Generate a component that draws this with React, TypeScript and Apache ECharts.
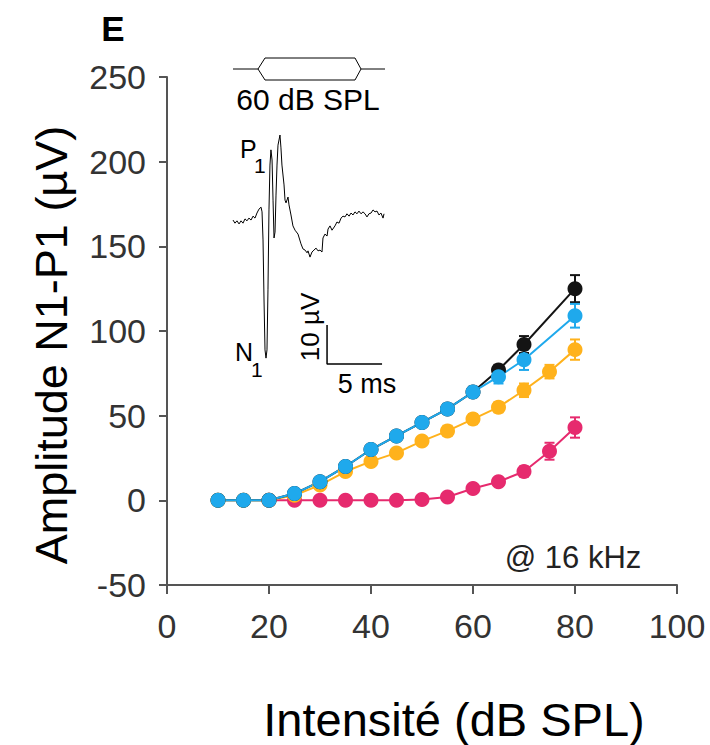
import React, { useEffect, useRef } from 'react';
import * as echarts from 'echarts';

// ---- Main input/output data (Intensité dB SPL vs Amplitude N1-P1 µV) ----
const blackX = [10, 15, 20, 25, 30, 35, 40, 45, 50, 55, 60, 65, 70, 80];
const blackY = [0, 0, 0, 4, 11, 20, 30, 38, 46, 54, 64, 77, 92, 125];
const blackErr = [1, 1, 1, 1, 1, 2, 2, 2, 2, 2, 3, 3, 5, 8];

const blueX = [10, 15, 20, 25, 30, 35, 40, 45, 50, 55, 60, 65, 70, 80];
const blueY = [0, 0, 0, 4, 11, 20, 30, 38, 46, 54, 64, 73, 83, 109];
const blueErr = [1, 1, 1, 1, 2, 2, 2, 2, 2, 3, 3, 4, 6, 7];

const orangeX = [10, 15, 20, 25, 30, 35, 40, 45, 50, 55, 60, 65, 70, 75, 80];
const orangeY = [0, 0, 0, 3, 9, 17, 23, 28, 35, 41, 48, 55, 65, 76, 89];
const orangeErr = [1, 1, 1, 1, 2, 2, 2, 2, 2, 3, 3, 3, 4, 4, 6];

const pinkX = [20, 25, 30, 35, 40, 45, 50, 55, 60, 65, 70, 75, 80];
const pinkY = [0, 0, 0, 0, 0, 0, 0.5, 2, 7, 11, 17, 29, 43];
const pinkErr = [1, 1, 1, 1, 1, 1, 1, 1, 2, 2, 3, 5, 6];

const xTicks = { min: 0, max: 100, interval: 20 };
const yTicks = { min: -50, max: 250, interval: 50 };

const xTitle = 'Intensité (dB SPL)';
const yTitle = 'Amplitude N1-P1 (µV)';

// ---- Inset: example waveform at 60 dB SPL (time ms, µV) ----
const traceTime = [
  0, 0.18, 0.36, 0.55, 0.73, 0.91, 1.09, 1.27, 1.45, 1.64, 1.82, 2.0, 2.18, 2.36, 2.55, 2.64,
  2.73, 2.82, 2.91, 3.0, 3.09, 3.18, 3.27, 3.36, 3.45, 3.55, 3.64, 3.73, 3.82, 3.91, 4.0, 4.09,
  4.27, 4.36, 4.45, 4.64, 4.73, 4.82, 5.0, 5.09, 5.27, 5.45, 5.64, 5.91, 6.18, 6.36, 6.55, 6.73,
  6.82, 7.0, 7.18, 7.36, 7.55, 7.73, 7.91, 8.09, 8.18, 8.36, 8.55, 8.64, 8.82, 9.0, 9.27, 9.45,
  9.64, 9.82, 10.0, 10.18, 10.36, 10.55, 10.73, 10.91, 11.09, 11.27, 11.45, 11.64, 11.82, 12.0,
  12.18, 12.36, 12.55, 12.73, 12.91, 13.09, 13.27, 13.45, 13.64, 13.73,
];
const traceUv = [
  0.5, -0.3, 0.3, -0.5, 0.3, -0.3, 0.8, 0.3, 1.0, 0.5, 1.5, 1.0, 2.3, 3.3, 3.8, 2.6,
  -4.6, -20, -32.8, -34.9, -32.8, -17.4, 3.1, 14.6, 18.5, 15.9, 5.6, -4.1, -2.6, 6.9, 14.6, 19.7,
  22.3, 19.0, 14.6, 9.5, 5.6, 4.9, 6.4, 4.4, 1.8, -1.0, -2.1, -3.1, -5.6, -6.9, -7.2, -7.9,
  -7.4, -9.0, -7.7, -7.2, -6.7, -7.4, -7.2, -7.7, -4.1, -3.1, -3.6, -1.8, -1.0, -2.1, -1.0, 0,
  -0.3, 1.0, 1.5, 1.3, 2.1, 1.5, 2.3, 1.8, 2.6, 2.1, 2.8, 2.1, 2.6, 2.1,
  1.3, 2.1, 2.3, 3.1, 2.6, 2.8, 1.8, 2.3, 1.0, 2.1,
];
// scale bar: 10 µV vertical, 5 ms horizontal
const scaleBarTime = [8.55, 8.55, 13.55];
const scaleBarUv = [-26.4, -36.4, -36.4];

const FONT = '"Liberation Sans", Arial, Helvetica, sans-serif';

const COLORS = {
  black: '#141414',
  blue: '#1fa9ec',
  orange: '#ffb21c',
  pink: '#e62a6e',
};

function pairs(xs: number[], ys: number[]) {
  return xs.map((x, i) => [x, ys[i]]);
}

function errorSeries(xs: number[], ys: number[], errs: number[], color: string) {
  return {
    type: 'custom',
    xAxisIndex: 0,
    yAxisIndex: 0,
    silent: true,
    data: xs.map((x, i) => [x, ys[i] - errs[i], ys[i] + errs[i]]),
    encode: { x: 0, y: [1, 2] },
    renderItem: (_params: any, api: any) => {
      const x = api.value(0);
      const lo = api.coord([x, api.value(1)]);
      const hi = api.coord([x, api.value(2)]);
      const hw = 5;
      const st = { stroke: color, lineWidth: 2 };
      return {
        type: 'group',
        children: [
          { type: 'line', shape: { x1: lo[0], y1: lo[1], x2: hi[0], y2: hi[1] }, style: st },
          { type: 'line', shape: { x1: lo[0] - hw, y1: lo[1], x2: lo[0] + hw, y2: lo[1] }, style: st },
          { type: 'line', shape: { x1: hi[0] - hw, y1: hi[1], x2: hi[0] + hw, y2: hi[1] }, style: st },
        ],
      };
    },
  };
}

function lineSeries(xs: number[], ys: number[], color: string) {
  return {
    type: 'line',
    xAxisIndex: 0,
    yAxisIndex: 0,
    data: pairs(xs, ys),
    symbol: 'circle',
    symbolSize: 15,
    showAllSymbol: true,
    lineStyle: { color, width: 2 },
    itemStyle: { color },
    silent: true,
  };
}

export default function App() {
  const ref = useRef<HTMLDivElement>(null);

  useEffect(() => {
    if (!ref.current) return;
    const chart = echarts.init(ref.current, null, { renderer: 'svg' });
    const axisLineStyle = { color: '#555', width: 2 };

    const txt = (text: string, x: number, y: number, size: number, extra: any = {}) => ({
      type: 'text',
      x,
      y,
      z: 100,
      style: {
        text,
        fontSize: size,
        fontFamily: FONT,
        fill: '#000',
        align: 'center',
        verticalAlign: 'middle',
        ...extra,
      },
    });

    chart.setOption({
      animation: false,
      backgroundColor: '#fff',
      grid: [
        { left: 167, top: 77, width: 510, height: 508 },
        { left: 233, top: 124.5, width: 154, height: 253.5 },
      ],
      xAxis: [
        {
          type: 'value',
          gridIndex: 0,
          min: xTicks.min,
          max: xTicks.max,
          interval: xTicks.interval,
          axisLine: { show: true, onZero: false, lineStyle: axisLineStyle },
          axisTick: { show: true, inside: false, length: 9, lineStyle: axisLineStyle },
          splitLine: { show: false },
          axisLabel: { fontSize: 34, color: '#333', margin: 24, fontFamily: FONT },
        },
        { type: 'value', gridIndex: 1, min: 0, max: 14, show: false },
      ],
      yAxis: [
        {
          type: 'value',
          gridIndex: 0,
          min: yTicks.min,
          max: yTicks.max,
          interval: yTicks.interval,
          axisLine: { show: true, onZero: false, lineStyle: axisLineStyle },
          axisTick: { show: true, inside: false, length: 8, lineStyle: axisLineStyle },
          splitLine: { show: false },
          axisLabel: { fontSize: 34, color: '#333', margin: 21, fontFamily: FONT },
        },
        { type: 'value', gridIndex: 1, min: -40, max: 25, show: false },
      ],
      series: [
        errorSeries(pinkX, pinkY, pinkErr, COLORS.pink),
        lineSeries(pinkX, pinkY, COLORS.pink),
        errorSeries(orangeX, orangeY, orangeErr, COLORS.orange),
        lineSeries(orangeX, orangeY, COLORS.orange),
        errorSeries(blackX, blackY, blackErr, COLORS.black),
        lineSeries(blackX, blackY, COLORS.black),
        errorSeries(blueX, blueY, blueErr, COLORS.blue),
        lineSeries(blueX, blueY, COLORS.blue),
        {
          type: 'line',
          xAxisIndex: 1,
          yAxisIndex: 1,
          data: pairs(traceTime, traceUv),
          symbol: 'none',
          lineStyle: { color: '#000', width: 1 },
          silent: true,
        },
        {
          type: 'line',
          xAxisIndex: 1,
          yAxisIndex: 1,
          data: pairs(scaleBarTime, scaleBarUv),
          symbol: 'none',
          lineStyle: { color: '#000', width: 1.5 },
          silent: true,
        },
      ],
      graphic: [
        // stimulus envelope icon
        { type: 'line', shape: { x1: 233, y1: 69, x2: 258, y2: 69 }, style: { stroke: '#000', lineWidth: 1 } },
        { type: 'line', shape: { x1: 361, y1: 69, x2: 385, y2: 69 }, style: { stroke: '#000', lineWidth: 1 } },
        {
          type: 'polygon',
          shape: { points: [[258, 69], [265, 58], [355, 58], [361, 69], [355, 80], [265, 80]] },
          style: { fill: '#fff', stroke: '#000', lineWidth: 1 },
        },
        txt('60 dB SPL', 308, 99, 30),
        txt('E', 113, 28, 35, { fontWeight: 'bold' }),
        txt('P', 240, 149, 25, { align: 'left' }),
        txt('1', 254, 165, 21, { align: 'left' }),
        txt('N', 235, 352, 25, { align: 'left' }),
        txt('1', 251, 369, 21, { align: 'left' }),
        { ...txt('10 µV', 0, 0, 26), x: 310, y: 327, rotation: Math.PI / 2 },
        txt('5 ms', 367, 384, 27),
        txt('@ 16 kHz', 573, 557, 31, { fill: '#222' }),
        txt(xTitle, 454, 719, 47),
        { ...txt(yTitle, 0, 0, 45), x: 51, y: 345, rotation: Math.PI / 2 },
      ],
    });

    return () => chart.dispose();
  }, []);

  return (
    <div
      ref={ref}
      style={{ position: 'fixed', left: 0, top: 0, width: 710, height: 745, background: '#fff' }}
    />
  );
}
